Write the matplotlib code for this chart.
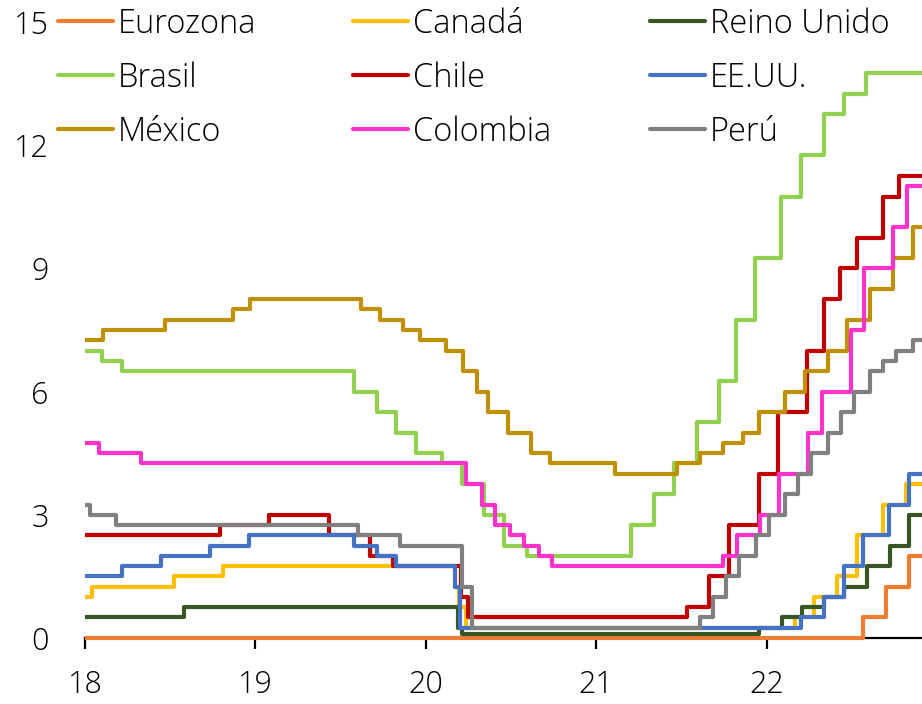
import datetime as dt
import matplotlib
matplotlib.use("Agg")
import matplotlib.pyplot as plt
from matplotlib.lines import Line2D

plt.rcParams['font.family'] = ['Open Sans', 'DejaVu Sans']
plt.rcParams['font.weight'] = 300

# ---------------- data (policy rates, %) ----------------
fin = "2022-11-30"

eurozona_fechas = ["2018-01-01", "2022-07-27", "2022-09-14", "2022-11-02"]
eurozona_tasas = [0.0, 0.5, 1.25, 2.0]

canada_fechas = ["2018-01-01", "2018-01-17", "2018-07-11", "2018-10-24", "2020-03-04", "2020-03-13",
                 "2020-03-27", "2022-03-02", "2022-04-13", "2022-06-01", "2022-07-13", "2022-09-07",
                 "2022-10-26"]
canada_tasas = [1.0, 1.25, 1.5, 1.75, 1.25, 0.75, 0.25, 0.5, 1.0, 1.5, 2.5, 3.25, 3.75]

reino_fechas = ["2018-01-01", "2018-08-02", "2020-03-11", "2020-03-19", "2021-12-16", "2022-02-03",
                "2022-03-17", "2022-05-05", "2022-06-16", "2022-08-04", "2022-09-22", "2022-11-03"]
reino_tasas = [0.5, 0.75, 0.25, 0.1, 0.25, 0.5, 0.75, 1.0, 1.25, 1.75, 2.25, 3.0]

brasil_fechas = ["2018-01-01", "2018-02-07", "2018-03-21", "2019-07-31", "2019-09-18", "2019-10-30",
                 "2019-12-11", "2020-02-05", "2020-03-18", "2020-05-06", "2020-06-17", "2020-08-05",
                 "2021-03-17", "2021-05-05", "2021-06-16", "2021-08-04", "2021-09-22", "2021-10-27",
                 "2021-12-08", "2022-02-02", "2022-03-16", "2022-05-04", "2022-06-15", "2022-08-03"]
brasil_tasas = [7.0, 6.75, 6.5, 6.0, 5.5, 5.0, 4.5, 4.25, 3.75, 3.0, 2.25, 2.0, 2.75, 3.5, 4.25, 5.25,
                6.25, 7.75, 9.25, 10.75, 11.75, 12.75, 13.25, 13.75]

chile_fechas = ["2018-01-01", "2018-10-18", "2019-01-30", "2019-06-07", "2019-09-04", "2019-10-23",
                "2020-03-16", "2020-03-31", "2021-07-14", "2021-08-31", "2021-10-13", "2021-12-15",
                "2022-01-26", "2022-03-29", "2022-05-04", "2022-06-08", "2022-07-13", "2022-09-07",
                "2022-10-12"]
chile_tasas = [2.5, 2.75, 3.0, 2.5, 2.0, 1.75, 1.0, 0.5, 0.75, 1.5, 2.75, 4.0, 5.5, 7.0, 8.25, 9.0,
               9.75, 10.75, 11.25]

eeuu_fechas = ["2018-01-01", "2018-03-21", "2018-06-13", "2018-09-26", "2018-12-19", "2019-07-31",
               "2019-09-18", "2019-10-30", "2020-03-03", "2020-03-15", "2022-03-16", "2022-05-04",
               "2022-06-15", "2022-07-27", "2022-09-21", "2022-11-02"]
eeuu_tasas = [1.5, 1.75, 2.0, 2.25, 2.5, 2.25, 2.0, 1.75, 1.25, 0.25, 0.5, 1.0, 1.75, 2.5, 3.25, 4.0]

mexico_fechas = ["2018-01-01", "2018-02-08", "2018-06-21", "2018-11-15", "2018-12-20", "2019-08-15",
                 "2019-09-26", "2019-11-14", "2019-12-19", "2020-02-13", "2020-03-20", "2020-04-21",
                 "2020-05-14", "2020-06-25", "2020-08-13", "2020-09-24", "2021-02-11", "2021-06-24",
                 "2021-08-12", "2021-09-30", "2021-11-11", "2021-12-16", "2022-02-10", "2022-03-24",
                 "2022-05-12", "2022-06-23", "2022-08-11", "2022-09-29", "2022-11-10"]
mexico_tasas = [7.25, 7.5, 7.75, 8.0, 8.25, 8.0, 7.75, 7.5, 7.25, 7.0, 6.5, 6.0, 5.5, 5.0, 4.5, 4.25,
                4.0, 4.25, 4.5, 4.75, 5.0, 5.5, 6.0, 6.5, 7.0, 7.75, 8.5, 9.25, 10.0]

colombia_fechas = ["2018-01-01", "2018-01-31", "2018-04-30", "2020-03-27", "2020-04-30", "2020-05-29",
                   "2020-06-29", "2020-07-31", "2020-08-31", "2020-09-28", "2021-09-30", "2021-10-29",
                   "2021-12-17", "2022-01-28", "2022-03-31", "2022-04-29", "2022-06-30", "2022-07-29",
                   "2022-09-29", "2022-10-28"]
colombia_tasas = [4.75, 4.5, 4.25, 3.75, 3.25, 2.75, 2.5, 2.25, 2.0, 1.75, 2.0, 2.5, 3.0, 4.0, 5.0,
                  6.0, 7.5, 9.0, 10.0, 11.0]

peru_fechas = ["2018-01-01", "2018-01-11", "2018-03-08", "2019-08-08", "2019-11-07", "2020-03-19",
               "2020-04-09", "2021-08-12", "2021-09-09", "2021-10-07", "2021-11-04", "2021-12-09",
               "2022-01-06", "2022-02-10", "2022-03-10", "2022-04-07", "2022-05-12", "2022-06-09",
               "2022-07-07", "2022-08-11", "2022-09-08", "2022-10-06", "2022-11-10"]
peru_tasas = [3.25, 3.0, 2.75, 2.5, 2.25, 1.25, 0.25, 0.5, 1.0, 1.5, 2.0, 2.5, 3.0, 3.5, 4.0, 4.5,
              5.0, 5.5, 6.0, 6.5, 6.75, 7.0, 7.25]

nombres = ["Eurozona", "Canadá", "Reino Unido", "Brasil", "Chile", "EE.UU.", "México", "Colombia", "Perú"]
series_fechas = [eurozona_fechas, canada_fechas, reino_fechas, brasil_fechas, chile_fechas,
                 eeuu_fechas, mexico_fechas, colombia_fechas, peru_fechas]
series_tasas = [eurozona_tasas, canada_tasas, reino_tasas, brasil_tasas, chile_tasas,
                eeuu_tasas, mexico_tasas, colombia_tasas, peru_tasas]
colores = ["#ED7D31", "#FFC000", "#375623", "#92D050", "#C00000", "#4472C4", "#BF9000", "#FF33CC", "#808080"]

x_ticks = [18, 19, 20, 21, 22]
x_labels = ["18", "19", "20", "21", "22"]
y_ticks = [0, 3, 6, 9, 12, 15]
y_labels = ["0", "3", "6", "9", "12", "15"]


def anio_decimal(s):
    d = dt.date.fromisoformat(s)
    doy = d.timetuple().tm_yday
    dias = 366 if (d.year % 4 == 0) else 365
    return d.year - 2000 + (doy - 1) / dias


x_fin = anio_decimal(fin)

# ---------------- figure ----------------
W, H = 922, 704
fig = plt.figure(figsize=(W / 100, H / 100), dpi=100)
ax = fig.add_axes([85 / W, 66 / H, 837 / W, 616 / H])

handles = []
for nom, fs, ts, c in zip(nombres, series_fechas, series_tasas, colores):
    xs = [anio_decimal(f) for f in fs] + [x_fin]
    ys = list(ts) + [ts[-1]]
    ax.step(xs, ys, where="post", color=c, lw=3.0, clip_on=False,
            solid_capstyle="butt", solid_joinstyle="round")
    handles.append(Line2D([0], [0], color=c, lw=3.0, solid_capstyle="round", label=nom))

ax.set_xlim(18, x_fin)
ax.set_ylim(0, 15)
ax.set_xticks(x_ticks)
ax.set_xticklabels(x_labels)
ax.set_yticks(y_ticks)
ax.set_yticklabels(y_labels)

for s in ["left", "top", "right"]:
    ax.spines[s].set_visible(False)
ax.spines["bottom"].set_color("black")
ax.spines["bottom"].set_linewidth(1.6)
ax.spines["bottom"].set_zorder(0.5)

ax.tick_params(axis="y", length=0, pad=26, labelsize=22)
ax.tick_params(axis="x", length=8, width=1.6, direction="out", pad=14, labelsize=22)

# legend: three columns placed individually
col_x = [58, 353, 650]
for ci in range(3):
    hs = [handles[ci + 3 * r] for r in range(3)]
    fig.legend(handles=hs, loc="upper left", bbox_to_anchor=(col_x[ci] / W, 0.990),
               frameon=False, fontsize=23.5, handlelength=1.69, handletextpad=0.15,
               labelspacing=0.63, borderpad=0.0, borderaxespad=0.0)

fig.savefig("out.png", dpi=100)
